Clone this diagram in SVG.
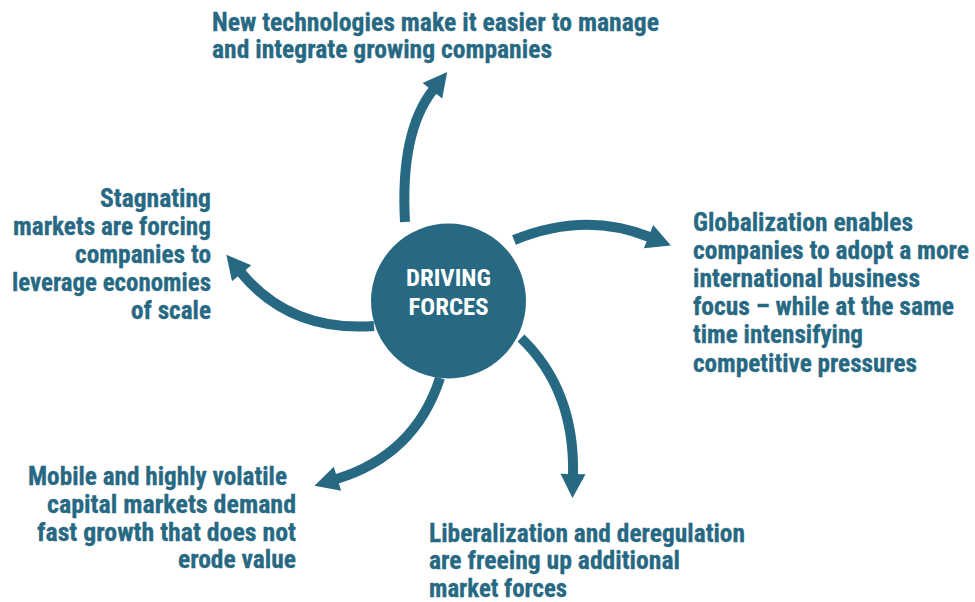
<svg xmlns="http://www.w3.org/2000/svg" width="975" height="602" viewBox="0 0 975 602">
  <style>
    .lbl { font-family: "Liberation Sans Narrow", "Roboto Condensed", "DejaVu Sans Condensed", "Liberation Sans", sans-serif; font-weight: bold; font-size: 25px; fill: #276983; stroke: #276983; stroke-width: 0.3; }
    .hub { font-family: "Liberation Sans Narrow", "Roboto Condensed", "DejaVu Sans Condensed", "Liberation Sans", sans-serif; font-weight: bold; font-size: 23px; fill: #ffffff; text-anchor: middle; }
    .end { text-anchor: end; }
    .arrow { fill: none; stroke: #276983; stroke-width: 10; stroke-linecap: butt; marker-end: url(#head); }
  </style>
  <defs>
    <marker id="head" markerUnits="userSpaceOnUse" markerWidth="24" markerHeight="25" viewBox="0 0 24 25" refX="1" refY="12.5" orient="auto" overflow="visible">
      <path d="M0,0 L24,12.5 L0,25 z" fill="#276983"/>
    </marker>
  </defs>

  <rect width="975" height="602" fill="#ffffff"/>

  <!-- curved arrows radiating from the hub -->
  <g id="connectors">
    <path class="arrow" d="M405,222 Q400,132 433,90"/>
    <path class="arrow" d="M514,240 Q585,211 649.5,237"/>
    <path class="arrow" d="M521,338 Q575,390 573,475"/>
    <path class="arrow" d="M440,378 Q415,455 336.5,479"/>
    <path class="arrow" d="M374,326 Q290,332 241,272.5"/>
  </g>

  <g id="hub">
    <circle cx="448.5" cy="301" r="77.5" fill="#276983"/>
    <text class="hub" x="448.5" y="286" textLength="85" lengthAdjust="spacingAndGlyphs">DRIVING</text>
    <text class="hub" x="448.5" y="315" textLength="80" lengthAdjust="spacingAndGlyphs">FORCES</text>
  </g>

  <g id="technology">
    <text class="lbl" x="212" y="30.5" textLength="447" lengthAdjust="spacingAndGlyphs">New technologies make it easier to manage</text>
    <text class="lbl" x="212" y="57.5" textLength="340" lengthAdjust="spacingAndGlyphs">and integrate growing companies</text>
  </g>

  <g id="globalization">
    <text class="lbl" x="693" y="230.5" textLength="220" lengthAdjust="spacingAndGlyphs">Globalization enables</text>
    <text class="lbl" x="693" y="258.5" textLength="276" lengthAdjust="spacingAndGlyphs">companies to adopt a more</text>
    <text class="lbl" x="693" y="286.5" textLength="227" lengthAdjust="spacingAndGlyphs">international business</text>
    <text class="lbl" x="693" y="314.5" textLength="261" lengthAdjust="spacingAndGlyphs">focus – while at the same</text>
    <text class="lbl" x="693" y="343" textLength="170" lengthAdjust="spacingAndGlyphs">time intensifying</text>
    <text class="lbl" x="693" y="371.5" textLength="224" lengthAdjust="spacingAndGlyphs">competitive pressures</text>
  </g>

  <g id="liberalization">
    <text class="lbl" x="429" y="541.5" textLength="316" lengthAdjust="spacingAndGlyphs">Liberalization and deregulation</text>
    <text class="lbl" x="429" y="569" textLength="251" lengthAdjust="spacingAndGlyphs">are freeing up additional</text>
    <text class="lbl" x="429" y="596.5" textLength="138" lengthAdjust="spacingAndGlyphs">market forces</text>
  </g>

  <g id="capital-markets">
    <text class="lbl" x="28" y="485" textLength="259" lengthAdjust="spacingAndGlyphs">Mobile and highly volatile</text>
    <text class="lbl end" x="296" y="512.5" textLength="249" lengthAdjust="spacingAndGlyphs">capital markets demand</text>
    <text class="lbl end" x="296" y="540.5" textLength="259" lengthAdjust="spacingAndGlyphs">fast growth that does not</text>
    <text class="lbl end" x="296" y="568" textLength="118" lengthAdjust="spacingAndGlyphs">erode value</text>
  </g>

  <g id="stagnation">
    <text class="lbl end" x="211" y="206.5" textLength="111" lengthAdjust="spacingAndGlyphs">Stagnating</text>
    <text class="lbl end" x="211" y="234.5" textLength="198" lengthAdjust="spacingAndGlyphs">markets are forcing</text>
    <text class="lbl end" x="211" y="262.5" textLength="136" lengthAdjust="spacingAndGlyphs">companies to</text>
    <text class="lbl end" x="211" y="291" textLength="199" lengthAdjust="spacingAndGlyphs">leverage economies</text>
    <text class="lbl end" x="211" y="319" textLength="80" lengthAdjust="spacingAndGlyphs">of scale</text>
  </g>
</svg>
